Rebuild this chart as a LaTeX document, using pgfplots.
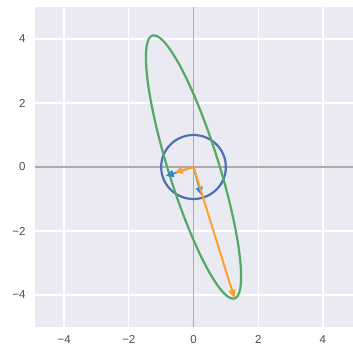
\documentclass[border=0pt]{standalone}
\usepackage{fontspec}
\setmainfont{Liberation Sans}
\usepackage{pgfplots}
\pgfplotsset{compat=1.18}
\usetikzlibrary{arrows.meta}
\definecolor{bg}{HTML}{EAEAF2}
\definecolor{sblue}{HTML}{4C72B0}
\definecolor{sgreen}{HTML}{55A868}
\definecolor{sorange}{HTML}{FFA02A}
\definecolor{abblue}{HTML}{2E86D6}
\definecolor{tickgray}{HTML}{4D4D4D}
\definecolor{zerogray}{HTML}{ABABAB}
\begin{document}
\begin{tikzpicture}
\begin{axis}[
  scale only axis, width=318pt, height=320pt,
  xmin=-4.9, xmax=4.93, ymin=-5, ymax=5,
  axis background/.style={fill=bg},
  axis line style={draw=none},
  xtick={-4,-2,0,2,4}, ytick={-4,-2,0,2,4},
  xticklabels={−4,−2,0,2,4}, yticklabels={−4,−2,0,2,4},
  major tick length=0pt,
  grid=major, major grid style={white, line width=1.3pt},
  tick label style={font=\fontsize{11.5}{13}\selectfont, text=tickgray},
  xticklabel style={yshift=-5pt},
  yticklabel style={xshift=-6pt},
]
\addplot[zerogray, line width=1.3pt] coordinates {(-4.9,0) (4.93,0)};
\addplot[zerogray, line width=1.3pt] coordinates {(0,-5) (0,5)};
% unit circle
\addplot[sblue, line width=2.2pt, smooth] coordinates {
(0.985,-0.174) (1,0) (0.985,0.174) (0.940,0.342) (0.866,0.5) (0.766,0.643) (0.643,0.766) (0.5,0.866) (0.342,0.940) (0.174,0.985) (0,1) (-0.174,0.985) (-0.342,0.940) (-0.5,0.866) (-0.643,0.766) (-0.766,0.643) (-0.866,0.5) (-0.940,0.342) (-0.985,0.174) (-1,0) (-0.985,-0.174) (-0.940,-0.342) (-0.866,-0.5) (-0.766,-0.643) (-0.643,-0.766) (-0.5,-0.866) (-0.342,-0.940) (-0.174,-0.985) (0,-1) (0.174,-0.985) (0.342,-0.940) (0.5,-0.866) (0.643,-0.766) (0.766,-0.643) (0.866,-0.5) (0.940,-0.342) (0.985,-0.174) (1,0) (0.985,0.174)
};
% transformed ellipse
\addplot[sgreen, line width=2.2pt, smooth] coordinates {
(0.955,-0.487) (0.746,0.230) (0.514,0.940) (0.267,1.622) (0.012,2.255) (-0.244,2.819) (-0.492,3.297) (-0.726,3.675) (-0.937,3.942) (-1.120,4.088) (-1.2685,4.111) (-1.379,4.009) (-1.447,3.784) (-1.471,3.445) (-1.451,3.001) (-1.387,2.466) (-1.280,1.856) (-1.135,1.190) (-0.955,0.487) (-0.746,-0.230) (-0.514,-0.940) (-0.267,-1.622) (-0.012,-2.255) (0.244,-2.819) (0.492,-3.297) (0.726,-3.675) (0.937,-3.942) (1.120,-4.088) (1.2685,-4.111) (1.379,-4.009) (1.447,-3.784) (1.471,-3.445) (1.451,-3.001) (1.387,-2.466) (1.280,-1.856) (1.135,-1.190) (0.955,-0.487) (0.746,0.230) (0.514,0.940)
};
% blue vectors
\addplot[abblue, line width=1.8pt, -{Triangle[length=8pt,width=7pt]}] coordinates {(0,0) (-0.86,-0.28)};
\addplot[abblue, line width=1.8pt, -{Triangle[length=8pt,width=7pt]}] coordinates {(0,0) (0.24,-0.88)};
% orange vectors
\addplot[sorange, line width=2pt, -{Triangle[length=9pt,width=7pt]}] coordinates {(0,0) (1.27,-4.11)};
\addplot[sorange, line width=2pt, -{Triangle[length=8pt,width=7pt]}] coordinates {(0,0) (-0.58,-0.17)};
\end{axis}
\pgfresetboundingbox
\path[use as bounding box] ([xshift=-35pt,yshift=-19pt]current axis.south west) rectangle ([yshift=7pt]current axis.north east);
\end{tikzpicture}
\end{document}
